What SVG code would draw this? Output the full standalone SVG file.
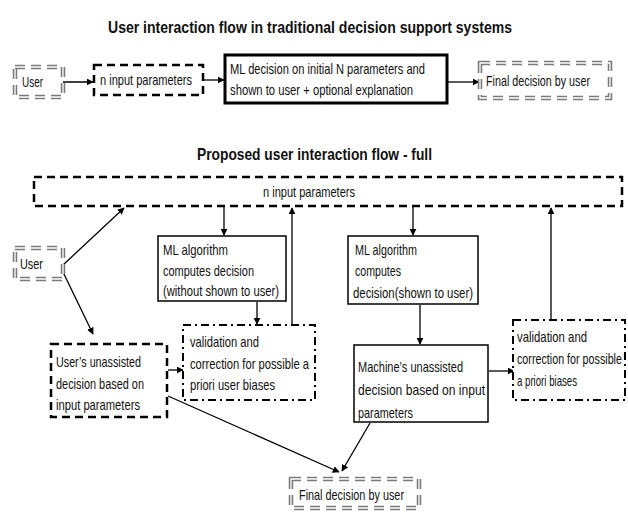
<svg xmlns="http://www.w3.org/2000/svg" width="628" height="512" viewBox="0 0 628 512">
<style>
text{font-family:"Liberation Sans",Arial,sans-serif;font-size:15px;fill:#111}
.title{font-size:17px;font-weight:bold}
.solid{fill:#fff;stroke:#000;stroke-width:1.5}
.thick{fill:#fff;stroke:#000;stroke-width:3}
.dash{fill:#fff;stroke:#000;stroke-width:2.5;stroke-dasharray:8 5}
.dashdot{fill:#fff;stroke:#000;stroke-width:2;stroke-dasharray:8 4 2 4}
.gray{fill:#fff;stroke:#7a7a7a;stroke-width:4.5;stroke-dasharray:10 6}
.grayin{fill:none;stroke:#fff;stroke-width:1.3;stroke-dasharray:10 6}
.c{fill:none;stroke:#000;stroke-width:1.3;marker-end:url(#ah)}
</style>
<defs>
<marker id="ah" viewBox="0 0 10 10" refX="9" refY="5" markerWidth="7" markerHeight="7" markerUnits="userSpaceOnUse" orient="auto">
<path d="M0,0 L10,5 L0,10 z" fill="#000"/>
</marker>
</defs>
<rect width="628" height="512" fill="#fff"/>
<text class="title" x="108" y="33" textLength="404" lengthAdjust="spacingAndGlyphs">User interaction flow in traditional decision support systems</text>
<text class="title" x="197" y="160" textLength="235" lengthAdjust="spacingAndGlyphs">Proposed user interaction flow - full</text>

<g id="connectors">
<polyline class="c" points="62,69 62,82 93,82"/>
<line class="c" x1="204" y1="80" x2="224" y2="80"/>
<line class="c" x1="448" y1="82" x2="479" y2="82"/>
<line class="c" x1="63" y1="265" x2="124" y2="208"/>
<line class="c" x1="62" y1="270" x2="93" y2="334"/>
<line class="c" x1="224" y1="207" x2="224" y2="235"/>
<line class="c" x1="413" y1="207" x2="413" y2="235"/>
<line class="c" x1="257" y1="302" x2="257" y2="324"/>
<line class="c" x1="292" y1="325" x2="292" y2="208"/>
<line class="c" x1="168" y1="370" x2="183" y2="370"/>
<line class="c" x1="420" y1="305" x2="420" y2="344"/>
<line class="c" x1="489" y1="371" x2="514" y2="371"/>
<line class="c" x1="551" y1="320" x2="551" y2="208"/>
<line class="c" x1="168" y1="396" x2="339" y2="472"/>
<line class="c" x1="370" y1="423" x2="342" y2="471"/>
</g>

<g id="user1">
<rect class="gray" x="15" y="67" width="48" height="30"/>
<rect class="grayin" x="15" y="67" width="48" height="30"/>
<text x="22" y="87" textLength="21" lengthAdjust="spacingAndGlyphs">User</text>
</g>
<g id="ninput1">
<rect class="dash" x="94" y="65" width="109" height="30"/>
<text x="100" y="85" textLength="92" lengthAdjust="spacingAndGlyphs">n input parameters</text>
</g>
<g id="mldecision">
<rect class="thick" x="225" y="55" width="222" height="48"/>
<text x="230" y="74" textLength="195" lengthAdjust="spacingAndGlyphs">ML decision on initial N parameters and</text>
<text x="230" y="95" textLength="183" lengthAdjust="spacingAndGlyphs">shown to user + optional explanation</text>
</g>
<g id="final1">
<rect class="gray" x="480" y="63" width="130" height="35"/>
<rect class="grayin" x="480" y="63" width="130" height="35"/>
<text transform="translate(486,86) scale(0.717,1)">Final decision by user</text>
</g>

<g id="ninput2">
<rect class="dash" x="34" y="177" width="588" height="29"/>
<text x="263" y="197" textLength="92" lengthAdjust="spacingAndGlyphs">n input parameters</text>
</g>
<g id="user2">
<rect class="gray" x="15" y="248" width="48" height="31"/>
<rect class="grayin" x="15" y="248" width="48" height="31"/>
<text x="20" y="269" textLength="23" lengthAdjust="spacingAndGlyphs">User</text>
</g>
<g id="ml1">
<rect class="solid" x="158" y="236" width="128" height="65"/>
<text x="163" y="255" textLength="65" lengthAdjust="spacingAndGlyphs">ML algorithm</text>
<text x="163" y="276" textLength="91" lengthAdjust="spacingAndGlyphs">computes decision</text>
<text x="163" y="296" textLength="116" lengthAdjust="spacingAndGlyphs">(without shown to user)</text>
</g>
<g id="ml2">
<rect class="solid" x="348" y="236" width="130" height="68"/>
<text x="355" y="255" textLength="62" lengthAdjust="spacingAndGlyphs">ML algorithm</text>
<text x="355" y="276" textLength="46" lengthAdjust="spacingAndGlyphs">computes</text>
<text x="353" y="298" textLength="120" lengthAdjust="spacingAndGlyphs">decision(shown to user)</text>
</g>
<g id="valid1">
<rect class="dashdot" x="183" y="325" width="132" height="75"/>
<text x="190" y="347" textLength="69" lengthAdjust="spacingAndGlyphs">validation and</text>
<text x="190" y="369" textLength="119" lengthAdjust="spacingAndGlyphs">correction for possible a</text>
<text x="190" y="390" textLength="85" lengthAdjust="spacingAndGlyphs">priori user biases</text>
</g>
<g id="userdecision">
<rect class="dash" x="51" y="344" width="116" height="73"/>
<text x="56" y="367" textLength="85" lengthAdjust="spacingAndGlyphs">User’s unassisted</text>
<text x="56" y="389" textLength="88" lengthAdjust="spacingAndGlyphs">decision based on</text>
<text x="56" y="410" textLength="84" lengthAdjust="spacingAndGlyphs">input parameters</text>
</g>
<g id="machinedecision">
<rect class="solid" x="354" y="345" width="134" height="77"/>
<text x="358" y="372" textLength="105" lengthAdjust="spacingAndGlyphs">Machine’s unassisted</text>
<text x="358" y="395" textLength="127" lengthAdjust="spacingAndGlyphs">decision based on  input</text>
<text x="358" y="418" textLength="55" lengthAdjust="spacingAndGlyphs">parameters</text>
</g>
<g id="valid2">
<rect class="dashdot" x="513" y="320" width="112" height="80"/>
<text x="517" y="342" textLength="70" lengthAdjust="spacingAndGlyphs">validation and</text>
<text transform="translate(517,364) scale(0.716,1)">correction for possible</text>
<text x="517" y="386" textLength="60" lengthAdjust="spacingAndGlyphs">a priori biases</text>
</g>
<g id="final2">
<rect class="gray" x="291" y="479" width="128" height="29"/>
<rect class="grayin" x="291" y="479" width="128" height="29"/>
<text x="299" y="500" textLength="105" lengthAdjust="spacingAndGlyphs">Final decision by user</text>
</g>
</svg>
